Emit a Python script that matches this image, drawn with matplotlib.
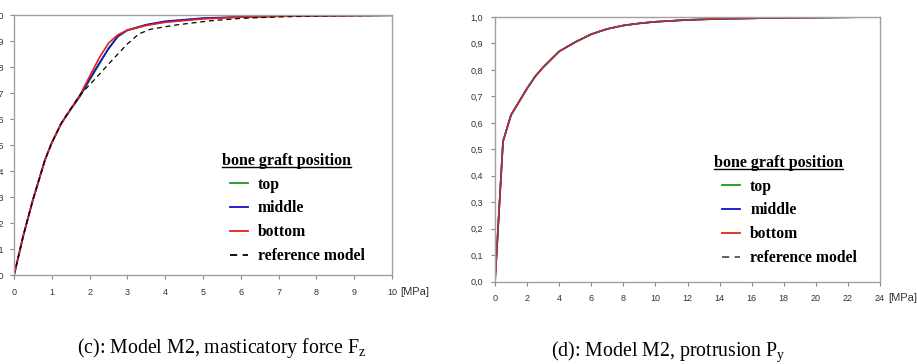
import numpy as np
import matplotlib.pyplot as plt
from matplotlib.lines import Line2D
from matplotlib.legend_handler import HandlerLine2D

# ---- data ----
# (c) masticatory force Fz
xc = [0, 0.25, 0.5, 0.82, 1.0, 1.25, 1.5, 1.75, 2.0, 2.25, 2.5, 2.75, 3.0, 3.5, 4.0, 5.0, 6.0, 7.0, 8.0, 10.0]
c_top = [0, 0.155, 0.29, 0.444, 0.51, 0.584, 0.638, 0.69, 0.75, 0.81, 0.875, 0.918, 0.942, 0.962, 0.975, 0.988, 0.993, 0.996, 0.998, 1.0]
c_mid = [0, 0.155, 0.29, 0.444, 0.51, 0.584, 0.638, 0.69, 0.755, 0.815, 0.87, 0.92, 0.943, 0.964, 0.977, 0.989, 0.994, 0.997, 0.998, 1.0]
c_bot = [0, 0.155, 0.29, 0.444, 0.51, 0.584, 0.64, 0.695, 0.765, 0.835, 0.893, 0.925, 0.943, 0.961, 0.973, 0.986, 0.993, 0.996, 0.998, 1.0]
xc_ref = [0, 0.25, 0.5, 0.82, 1.0, 1.25, 1.35, 1.75, 2.2, 2.6, 3.0, 3.3, 3.6, 4.3, 5.2, 6.0, 7.0, 8.5, 10.0]
c_ref = [0, 0.155, 0.29, 0.444, 0.51, 0.584, 0.608, 0.694, 0.764, 0.828, 0.89, 0.928, 0.946, 0.963, 0.979, 0.988, 0.994, 0.998, 1.0]

# (d) protrusion Py
xd = [0, 0.5, 1, 1.5, 2, 2.5, 3, 3.5, 4, 5, 6, 7, 8, 9, 10, 12, 14, 16, 18, 20, 22, 24]
d_all = [0, 0.53, 0.63, 0.68, 0.73, 0.775, 0.81, 0.84, 0.87, 0.905, 0.935, 0.955, 0.968, 0.976, 0.982, 0.989, 0.993, 0.995, 0.997, 0.998, 0.999, 1.0]

series_names = ["top", "middle", "bottom", "reference model"]
colors = ["#1a9a1a", "#1010c8", "#e82020"]

plt.rcParams['font.family'] = 'Liberation Sans'

fig = plt.figure(figsize=(9.17, 3.64), dpi=100)
ax1 = fig.add_axes([0.01527, 0.2437, 0.4122, 0.7143])
ax2 = fig.add_axes([0.5398, 0.2262, 0.4199, 0.7271])


def style_axes(ax, xmax, xstep, ypad):
    ax.set_xlim(0, xmax)
    ax.set_ylim(0, 1)
    ax.set_xticks(np.arange(0, xmax + 0.01, xstep))
    ax.set_xticklabels([str(int(v)) for v in np.arange(0, xmax + 0.01, xstep)])
    yt = np.round(np.arange(0, 1.01, 0.1), 1)
    ax.set_yticks(yt)
    ax.set_yticklabels([("%.1f" % v).replace(".", ",") for v in yt])
    for s in ax.spines.values():
        s.set_color("#a0a0a0")
        s.set_linewidth(1.0)
    ax.tick_params(axis="both", labelsize=6.5, labelcolor="#333333", color="#888888",
                   length=3, width=0.8, direction="out", pad=6)
    ax.tick_params(axis="y", pad=ypad)


FS = 11.3
px = FS * 100 / 72.0


def add_legend(ax, ref_color, anchor):
    handles = [Line2D([], [], color=colors[0], lw=1.3),
               Line2D([], [], color=colors[1], lw=1.3),
               Line2D([], [], color=colors[2], lw=1.3),
               Line2D([], [], color=ref_color, lw=1.3, ls=(0, (4, 3)))]
    leg = ax.legend(handles, series_names, title="bone graft position",
                    loc="lower left", bbox_to_anchor=anchor, frameon=False,
                    borderpad=0, borderaxespad=0, numpoints=2,
                    handler_map={Line2D: HandlerLine2D(marker_pad=8 / px)},
                    prop={"family": "Liberation Serif", "weight": "bold", "size": FS},
                    title_fontproperties={"family": "Liberation Serif", "weight": "bold", "size": 11.5},
                    handlelength=34 / px, handletextpad=2 / px, labelspacing=0.5)
    leg._legend_box.align = "left"
    return leg


# (c)
ax1.plot(xc, c_top, color=colors[0], lw=1.2)
ax1.plot(xc, c_mid, color=colors[1], lw=1.2)
ax1.plot(xc, c_bot, color=colors[2], lw=1.2)
ax1.plot(xc_ref, c_ref, color="black", lw=0.9, ls=(0, (4, 3)))
style_axes(ax1, 10, 1, 4)
leg1 = add_legend(ax1, "black", (0.550, 0.043))

# (d)
ax2.plot(xd, d_all, color=colors[0], lw=1.2)
ax2.plot(xd, d_all, color=colors[1], lw=1.2)
ax2.plot(xd, d_all, color=colors[2], lw=1.2)
ax2.plot(xd, d_all, color="#555555", lw=0.9, ls=(0, (4, 3)))
style_axes(ax2, 24, 2, 5.5)
leg2 = add_legend(ax2, "#555555", (0.569, 0.059))

# units
ax1.text(1.06, -0.063, "[MPa]", transform=ax1.transAxes, fontsize=8, color="#333333", ha="center", va="center")
ax2.text(1.06, -0.063, "[MPa]", transform=ax2.transAxes, fontsize=8, color="#333333", ha="center", va="center")

# captions
fig.text(0.2416, 0.044, "(c): Model M2, masticatory force F$_{\\mathregular{z}}$",
         family="Liberation Serif", fontsize=14.3, ha="center", va="center")
fig.text(0.729, 0.033, "(d): Model M2, protrusion P$_{\\mathregular{y}}$",
         family="Liberation Serif", fontsize=14.3, ha="center", va="center")

# underline legend titles
fig.canvas.draw()
r = fig.canvas.get_renderer()
for leg in (leg1, leg2):
    bb = leg.get_title().get_window_extent(r)
    y = bb.y0 + 2
    fig.add_artist(Line2D([bb.x0 / fig.bbox.width, bb.x1 / fig.bbox.width],
                          [y / fig.bbox.height, y / fig.bbox.height],
                          color="black", lw=1.0, transform=fig.transFigure))

fig.savefig("out.png", dpi=100)
